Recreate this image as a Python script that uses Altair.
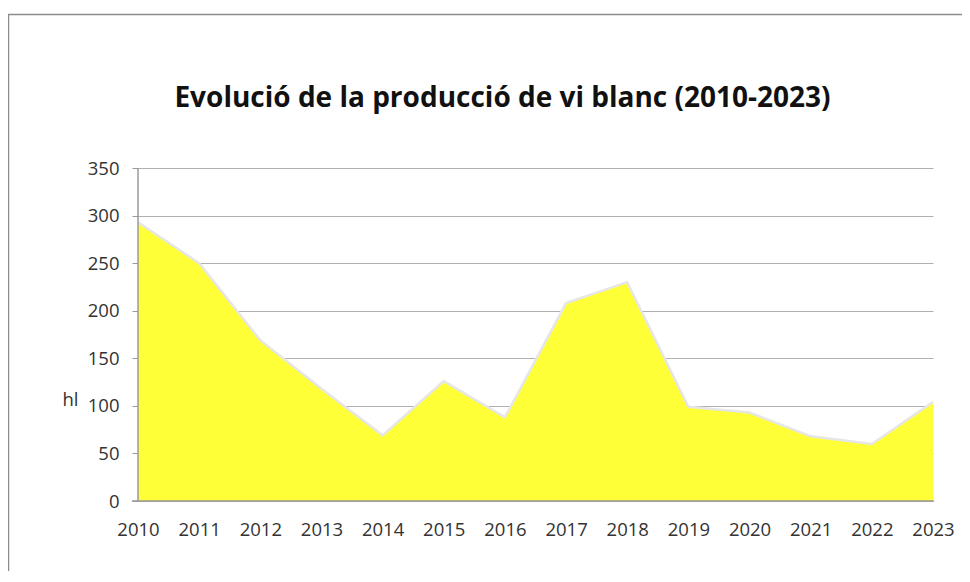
import altair as alt
import pandas as pd

years = list(range(2010, 2024))
values = [293, 250, 169, 118, 69, 126, 88, 208, 230, 99, 93, 68, 60, 104]
y_ticks = [0, 50, 100, 150, 200, 250, 300, 350]
title_text = "Evolució de la producció de vi blanc (2010-2023)"

df = pd.DataFrame({"year": years, "hl": values})

FONT = "Open Sans"
AXIS_GREY = "#9a9a9a"
W, H = 795, 333

one = pd.DataFrame({"a": [0]})

frame = alt.Chart(one).mark_rect(
    fillOpacity=0, stroke="#8c8c8c", strokeWidth=1.5
).encode(
    x=alt.value(-129.5), x2=alt.value(900), y=alt.value(-153.5), y2=alt.value(500)
)

area = alt.Chart(df).mark_area(
    color="#ffff38", opacity=1, fillOpacity=1,
    line={"color": "#e6e6e6", "strokeWidth": 2.5},
).encode(
    x=alt.X("year:Q",
            scale=alt.Scale(domain=[2010, 2023], nice=False, zero=False),
            axis=alt.Axis(values=years, format="d", title=None, grid=False,
                          ticks=False, labelPadding=19, domain=False,
                          labelFont=FONT, labelFontSize=18.5, labelColor="#333333",
                          labelFlush=False)),
    y=alt.Y("hl:Q",
            scale=alt.Scale(domain=[0, 350], nice=False),
            axis=alt.Axis(values=y_ticks, title="hl", titleAngle=0,
                          titleAlign="left", titleBaseline="alphabetic",
                          titleX=-76, titleY=237, titleFont=FONT,
                          titleFontSize=18.5, titleFontWeight="normal",
                          titleColor="#333333", domain=False,
                          grid=True, gridColor="#b0b0b0", tickSize=6,
                          tickColor=AXIS_GREY,
                          labelPadding=13, labelFont=FONT, labelFontSize=18.5,
                          labelColor="#333333")),
)

# axis lines drawn above the filled area, as in the reference
y_axis_line = alt.Chart(one).mark_rule(color=AXIS_GREY, strokeWidth=1.5).encode(
    x=alt.value(0), y=alt.value(0), y2=alt.value(H)
)
x_axis_line = alt.Chart(one).mark_rule(color=AXIS_GREY, strokeWidth=1.5).encode(
    x=alt.value(-6), x2=alt.value(W + 1), y=alt.value(H)
)

title = alt.Chart(pd.DataFrame({"t": [title_text]})).mark_text(
    font=FONT, fontSize=28, fontWeight="bold", color="#111111",
    align="center", baseline="alphabetic"
).encode(
    text="t:N", x=alt.value(364.5), y=alt.value(-61)
)

chart = alt.layer(frame, area, y_axis_line, x_axis_line, title).properties(
    width=W, height=H,
    autosize=alt.AutoSizeParams(type="none"),
    padding={"left": 130, "top": 160, "right": 29, "bottom": 70},
).configure_view(stroke=None)

chart.save("out.html", embed_options={"renderer": "svg", "actions": False})
